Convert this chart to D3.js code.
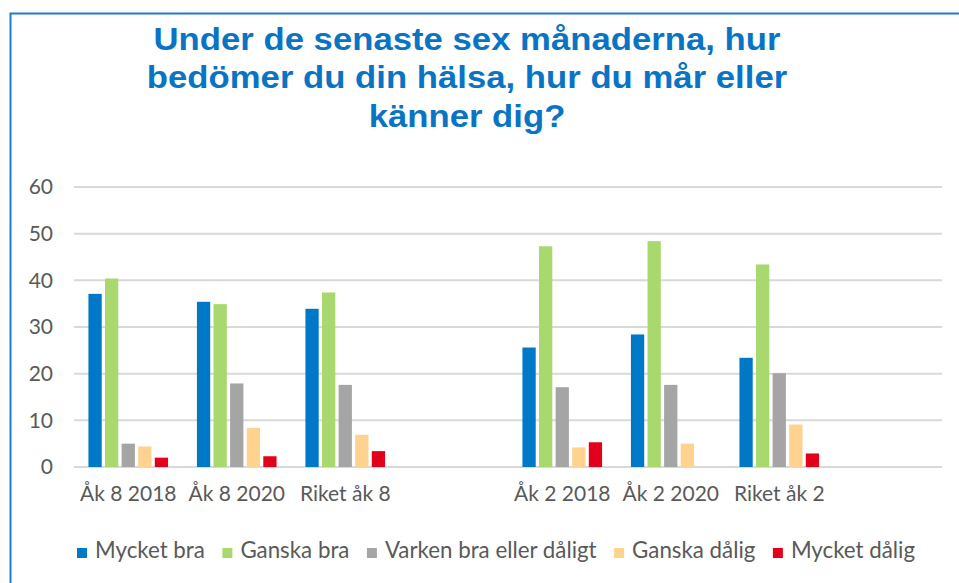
<!DOCTYPE html>
<html>
<head>
<meta charset="utf-8">
<script src="https://cdn.jsdelivr.net/npm/d3@7"></script>
<style>
  body { margin: 0; background: #fff; }
  svg { display: block; }
</style>
</head>
<body>
<svg id="chart"></svg>
<script>
const width = 959, height = 583;

// categories on the x axis (the empty ones are blank slots in the original)
const categories = ["Åk 8 2018", "Åk 8 2020", "Riket åk 8", "", "Åk 2 2018", "Åk 2 2020", "Riket åk 2", ""];
const seriesNames = ["Mycket bra", "Ganska bra", "Varken bra eller dåligt", "Ganska dålig", "Mycket dålig"];
const seriesColors = ["#0078c8", "#a9d86e", "#a5a5a5", "#fdd38f", "#e2001a"];

// percent per category, one array per answer
const mycketBra   = [37.1, 35.4, 33.9, null, 25.6, 28.4, 23.4, null];
const ganskaBra   = [40.4, 34.9, 37.4, null, 47.3, 48.4, 43.4, null];
const varken      = [5.0, 17.9, 17.6, null, 17.1, 17.6, 20.1, null];
const ganskaDalig = [4.4, 8.4, 6.9, null, 4.2, 5.0, 9.1, null];
const mycketDalig = [2.0, 2.3, 3.4, null, 5.3, null, 2.9, null];
const seriesValues = [mycketBra, ganskaBra, varken, ganskaDalig, mycketDalig];

const yTicks = [0, 10, 20, 30, 40, 50, 60];
const titleLines = ["Under de senaste sex månaderna, hur", "bedömer du din hälsa, hur du mår eller", "känner dig?"];

const font = "Lato, 'Open Sans', sans-serif";
const textColor = "#595959";

const svg = d3.select("#chart")
    .attr("width", width)
    .attr("height", height);

// outer frame (only top and left edges visible in the crop)
svg.append("rect")
    .attr("x", 10.5).attr("y", 13.5)
    .attr("width", 1000).attr("height", 1000)
    .attr("fill", "#fff")
    .attr("stroke", "#1f7bcf")
    .attr("stroke-width", 2);

// title - the original is a bit stretched sideways
svg.append("g")
    .attr("transform", "translate(467,0) scale(1.12,1)")
    .selectAll("text")
    .data(titleLines)
    .join("text")
    .attr("x", 0)
    .attr("y", (d, i) => 50 + i * 38.5)
    .attr("text-anchor", "middle")
    .style("font-family", "'Liberation Sans', Arial, sans-serif")
    .style("font-weight", "bold")
    .style("font-size", "31px")
    .style("fill", "#0a74c4")
    .text(d => d);

const margin = { left: 74, right: 17, top: 187, bottom: 116 };
const plotW = width - margin.left - margin.right;
const plotH = height - margin.top - margin.bottom;

const x0 = d3.scaleBand()
    .domain(d3.range(categories.length))
    .range([margin.left, margin.left + plotW]);

const x1 = d3.scaleBand()
    .domain(d3.range(seriesNames.length))
    .range([0, x0.bandwidth()])
    .paddingInner(0.2)
    .paddingOuter(0.87);

const y = d3.scaleLinear()
    .domain([0, 60])
    .range([margin.top + plotH, margin.top]);

// gridlines
svg.append("g")
    .selectAll("line")
    .data(yTicks)
    .join("line")
    .attr("x1", margin.left)
    .attr("x2", margin.left + plotW)
    .attr("y1", d => y(d))
    .attr("y2", d => y(d))
    .attr("stroke", "#d9d9d9")
    .attr("stroke-width", 2);

// y axis labels
const yAxis = svg.append("g")
    .attr("transform", `translate(${margin.left - 21},0)`)
    .call(d3.axisLeft(y).tickValues(yTicks).tickSize(0).tickPadding(0));
yAxis.select(".domain").remove();
yAxis.selectAll("text")
    .style("font-family", font)
    .style("font-size", "21px")
    .style("fill", textColor);

// bars
const bars = [];
seriesValues.forEach((vals, s) => {
    vals.forEach((v, c) => {
        if (v != null) bars.push({ s, c, v });
    });
});

svg.append("g")
    .selectAll("rect")
    .data(bars)
    .join("rect")
    .attr("x", d => x0(d.c) + x1(d.s))
    .attr("width", x1.bandwidth())
    .attr("y", d => y(d.v))
    .attr("height", d => y(0) - y(d.v))
    .attr("fill", d => seriesColors[d.s]);

// x axis labels
const xAxis = svg.append("g")
    .attr("transform", `translate(0,${y(0) + 19})`)
    .call(d3.axisBottom(x0).tickFormat(i => categories[i]).tickSize(0).tickPadding(0));
xAxis.select(".domain").remove();
xAxis.selectAll("text")
    .attr("dy", "0.71em")
    .style("font-family", font)
    .style("font-size", "21px")
    .style("fill", textColor);

// legend
const legend = svg.append("g");
let lx = 77;
seriesNames.forEach((name, i) => {
    legend.append("rect")
        .attr("x", lx).attr("y", 548)
        .attr("width", 10).attr("height", 10)
        .attr("fill", seriesColors[i]);
    const t = legend.append("text")
        .attr("x", lx + 18)
        .attr("y", 558)
        .style("font-family", font)
        .style("font-size", "22.3px")
        .style("fill", textColor)
        .text(name);
    lx += 18 + t.node().getComputedTextLength() + 17.5;
});
</script>
</body>
</html>
